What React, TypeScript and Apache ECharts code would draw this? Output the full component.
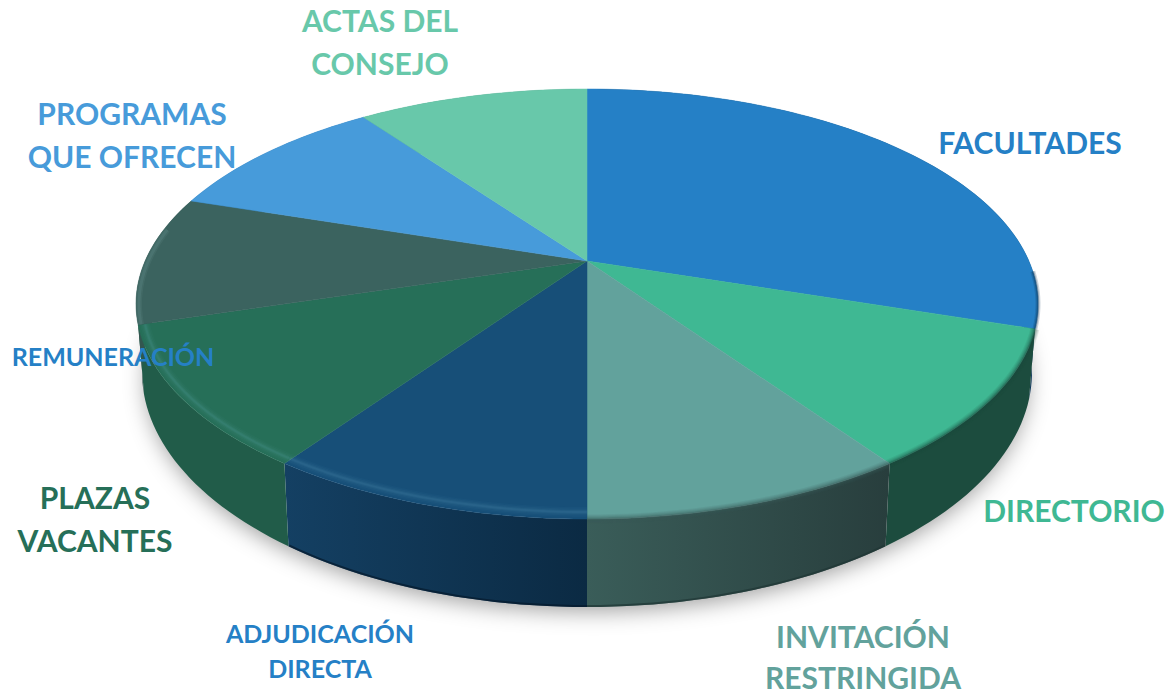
import React, { useEffect, useRef } from "react";
import * as echarts from "echarts";

const categories = ["FACULTADES", "DIRECTORIO", "INVITACIÓN RESTRINGIDA", "ADJUDICACIÓN DIRECTA", "PLAZAS VACANTES", "REMUNERACIÓN", "PROGRAMAS QUE OFRECEN", "ACTAS DEL CONSEJO"];
const values = [30, 10.3, 9.7, 9.7, 10.6, 9.7, 10, 10];
const topColors = ["#2580C6", "#3FB893", "#62A29C", "#174F78", "#266F58", "#3B635F", "#479BDA", "#68C8AA"];
const wallLeft = ["#103A5C", "#1C4C3E", "#3A5D59", "#144063", "#215C49", "#33564F", "#2A6A9A", "#3E8A72"];
const wallRight = ["#103A5C", "#1C4C3E", "#283E3D", "#0B2A43", "#215C49", "#33564F", "#2A6A9A", "#3E8A72"];
const labelColors = ["#2580C6", "#3FB893", "#62A29C", "#2580C6", "#266F58", "#2580C6", "#479BDA", "#68C8AA"];
const labelLines = [["FACULTADES"], ["DIRECTORIO"], ["INVITACIÓN", "RESTRINGIDA"], ["ADJUDICACIÓN", "DIRECTA"], ["PLAZAS", "VACANTES"], ["REMUNERACIÓN"], ["PROGRAMAS", "QUE OFRECEN"], ["ACTAS DEL", "CONSEJO"]];

const total = values.reduce((s, v) => s + v, 0);
const TOP = { cx: 587, cy: 304, rx: 451, ry: 215 };
const BOT = { cx: 587, cy: 372, rx: 445, ry: 235 };
const tilt = 0.2;
const tiltS = Math.sqrt(1 - tilt * tilt);

function proj(theta: number) {
  const u = Math.sin(theta), v = Math.cos(theta), d = 1 + tilt * v;
  return { u: (u * tiltS) / d, v: (v + tilt) / d };
}
function onEllipse(e: typeof TOP, theta: number, inset = 0): number[] {
  const p = proj(theta);
  return [e.cx + (e.rx - inset) * p.u, e.cy - (e.ry - inset) * p.v];
}
function arc(e: typeof TOP, a: number, b: number, inset = 0): number[][] {
  const n = Math.max(8, Math.ceil(Math.abs(b - a) * 40));
  const pts: number[][] = [];
  for (let i = 0; i <= n; i++) pts.push(onEllipse(e, a + ((b - a) * i) / n, inset));
  return pts;
}
function range(i: number): [number, number] {
  let s = 0;
  for (let k = 0; k < i; k++) s += values[k];
  return [(s / total) * 2 * Math.PI, ((s + values[i]) / total) * 2 * Math.PI];
}
const indexData = values.map((v) => [v]);

const wallItem = (params: any) => {
  const i = params.dataIndex;
  const [a, b] = range(i);
  const top = arc(TOP, a, b);
  const bot = arc(BOT, b, a);
  const children: any[] = [];
  if (i === 0) {
    children.push({
      type: "ellipse",
      shape: { cx: BOT.cx, cy: BOT.cy, rx: BOT.rx - 4, ry: BOT.ry - 4 },
      style: { fill: "#ffffff", shadowBlur: 22, shadowColor: "rgba(0,0,0,0.38)", shadowOffsetY: 8 },
    });
  }
  children.push({
    type: "polygon",
    shape: { points: top.concat(bot) },
    style: {
      fill: new echarts.graphic.LinearGradient(0, 0, 1, 0, [
        { offset: 0, color: wallLeft[i] },
        { offset: 1, color: wallRight[i] },
      ]),
    },
  });
  if (i === 2 || i === 3) {
    children.push({
      type: "polyline",
      shape: { points: arc(BOT, b, a, 1) },
      style: { fill: "none", stroke: i === 3 ? "#051a2c" : "#1f3634", lineWidth: 2, opacity: 0.7 },
    });
  }
  return { type: "group", children };
};

const topItem = (params: any) => {
  const i = params.dataIndex;
  const [a, b] = range(i);
  const apex = [TOP.cx, TOP.cy - TOP.ry * tilt];
  return {
    type: "polygon",
    shape: { points: [apex].concat(arc(TOP, a, b)) },
    style: { fill: topColors[i], stroke: topColors[i], lineWidth: 0.5 },
  };
};

// soft bevel along the rim of the top face
const rimItem = (params: any) => {
  const i = params.dataIndex;
  const [a, b] = range(i);
  const children: any[] = [];
  const strokes = (pts: number[][], color: string, list: number[][]) =>
    list.forEach(([w, o]) =>
      children.push({
        type: "polyline",
        shape: { points: pts },
        style: { fill: "none", stroke: color, lineWidth: w, opacity: o, lineCap: "butt" },
      })
    );
  if (i === 3 || i === 4) {
    strokes(arc(TOP, a, b, 7), "#8fd0f0", [[10, 0.025], [7, 0.035], [4, 0.05], [2, 0.06]]);
  }
  if (i === 5) {
    strokes(arc(TOP, a, a + (b - a) * 0.75, 3), "#b8e0e0", [[6, 0.06], [3, 0.08]]);
  }
  if (i === 1 || i === 2) {
    strokes(arc(TOP, a, b, 0), wallLeft[i], [[9, 0.1], [7, 0.12], [5, 0.16], [3, 0.22], [1.5, 0.3]]);
  }
  if (i === 0) {
    strokes(arc(TOP, a + (b - a) * 0.86, b, 0), "#0b3354", [[5, 0.2], [2.5, 0.35]]);
  }
  return { type: "group", children };
};

const labelLayout = [
  { x: 1030, y: 142, size: 30, lh: 0 },
  { x: 1074, y: 510, size: 30, lh: 0 },
  { x: 863, y: 636, size: 30, lh: 41 },
  { x: 320, y: 633, size: 25, lh: 35 },
  { x: 95, y: 497, size: 30, lh: 43 },
  { x: 113, y: 356, size: 25, lh: 0 },
  { x: 132, y: 113, size: 30, lh: 43 },
  { x: 380, y: 20, size: 30, lh: 43 },
];

export default function App() {
  const ref = useRef<HTMLDivElement>(null);
  useEffect(() => {
    document.body.style.margin = "0";
    const chart = echarts.init(ref.current!, undefined, { renderer: "svg" });
    chart.setOption({
      animation: false,
      backgroundColor: "#ffffff",
      series: [
        { type: "custom", name: "walls", coordinateSystem: "none", silent: true, data: indexData, renderItem: wallItem, z: 1 },
        { type: "custom", name: categories.join(", "), coordinateSystem: "none", silent: true, data: indexData, renderItem: topItem, z: 2 },
        { type: "custom", name: "rim", coordinateSystem: "none", silent: true, data: indexData, renderItem: rimItem, z: 3 },
      ],
      graphic: {
        elements: labelLines.flatMap((lines, i) => {
          const l = labelLayout[i];
          return lines.map((line, k) => ({
            type: "text",
            x: l.x,
            y: l.y + k * l.lh,
            z: 10,
            silent: true,
            style: {
              text: line,
              fill: labelColors[i],
              font: `bold ${l.size}px Lato`,
              align: "center",
              verticalAlign: "middle",
            },
          }));
        }),
      },
    });
    return () => chart.dispose();
  }, []);
  return <div ref={ref} style={{ width: 1168, height: 695, position: "absolute", left: 0, top: 0, overflow: "hidden" }} />;
}
